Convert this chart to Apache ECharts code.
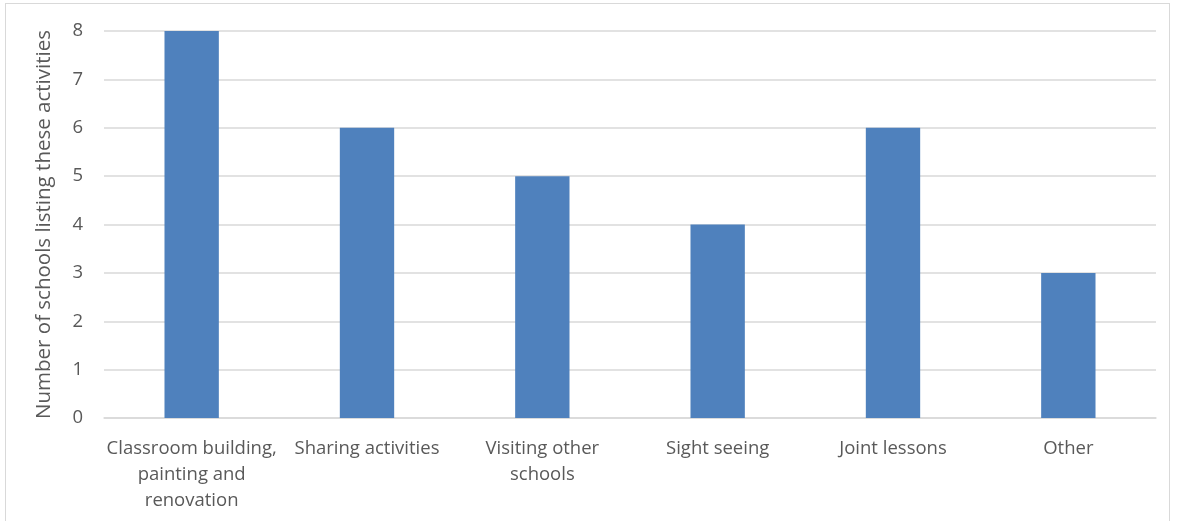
<!DOCTYPE html>
<html><head><meta charset="utf-8">
<script src="https://cdn.jsdelivr.net/npm/echarts@6/dist/echarts.min.js"></script>
<style>
html,body{margin:0;padding:0;background:#fff;overflow:hidden;}
#frame{position:absolute;left:5px;top:3px;width:1165px;height:530px;border:1.5px solid #d9d9d9;box-sizing:border-box;}
#chart{position:absolute;left:0;top:0;width:1177px;height:521px;}
</style></head>
<body>
<div id="frame"></div>
<div id="chart"></div>
<script>
const categories = ["Classroom building,\npainting and\nrenovation", "Sharing activities", "Visiting other\nschools", "Sight seeing", "Joint lessons", "Other"];
const values = [8, 6, 5, 4, 6, 3];
const yAxisTitle = "Number of schools listing these activities";

const chart = echarts.init(document.getElementById('chart'), null, {renderer:'canvas'});
const font = "'Open Sans', 'Noto Sans', sans-serif";
chart.setOption({
  animation:false,
  grid:{left:104, right:21, top:31, bottom:103, containLabel:false},
  xAxis:{
    type:'category', data:categories,
    axisLine:{lineStyle:{color:'#d9d9d9', width:1.5}},
    axisTick:{show:false},
    axisLabel:{color:'#595959', fontSize:18.5, fontFamily:font, lineHeight:26, margin:18, interval:0}
  },
  yAxis:{
    type:'value', min:0, max:8, interval:1,
    name:yAxisTitle, nameLocation:'middle', nameGap:49, nameRotate:90,
    nameTextStyle:{color:'#595959', fontSize:20.5, fontFamily:font},
    axisLine:{show:false}, axisTick:{show:false},
    axisLabel:{color:'#595959', fontSize:18.5, fontFamily:font, margin:21},
    splitLine:{lineStyle:{color:'#d9d9d9', width:1.5}}
  },
  series:[{type:'bar', data:values, barWidth:'31%', itemStyle:{color:'#4f81bd'}}]
});
</script>
</body></html>
